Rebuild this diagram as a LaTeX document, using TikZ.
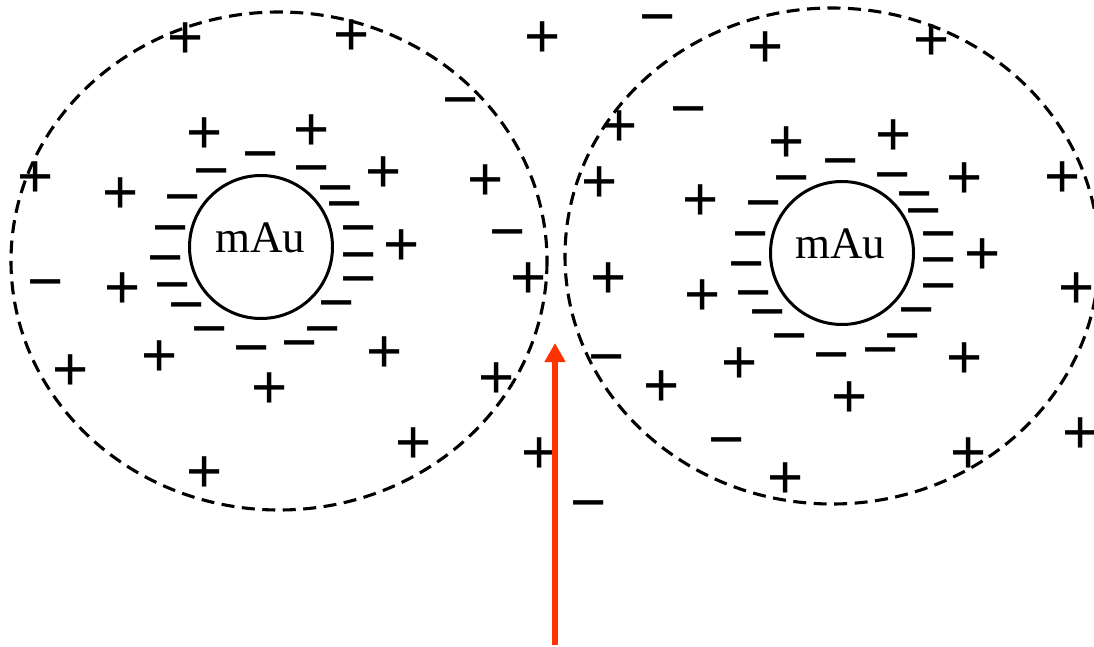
\documentclass[tikz,border=0pt]{standalone}
\usepackage{fontspec}
\setmainfont{Liberation Serif}
\newfontfamily\chargefont{Liberation Sans}
\usetikzlibrary{arrows.meta}
\definecolor{beamred}{RGB}{255,51,0}

\begin{document}
\begin{tikzpicture}[x=1pt, y=-1pt,
    chargep/.style={font=\chargefont\fontsize{62}{62}\selectfont, inner sep=0pt, anchor=mid, yshift=-18pt},
    chargem/.style={chargep},
    particle/.style={draw, circle, line width=3pt, minimum size=143pt, inner sep=0pt},
    tag/.style={font=\fontsize{45}{45}\selectfont, inner sep=0pt},
    shell/.style={draw, line width=3.1pt, dash pattern=on 13pt off 7.5pt}]

\useasboundingbox (0,0) rectangle (1094,647);

% Double layers round the particles
\draw[shell] (279,261) ellipse [x radius=268, y radius=249];
\draw[shell] (832,256) ellipse [x radius=267, y radius=248];

% Particles
\node[particle] (mauL) at (261,247) {};
\node[particle] (mauR) at (842,253) {};
\node[tag] (tagL) at (260,238) {mAu};
\node[tag] (tagR) at (840,244) {mAu};

% Positive ions
\foreach \px/\py [count=\i] in {186/38, 352/35, 543/37, 766/47, 932/40,
    620/126, 205/133, 312/130, 787/142, 894/135,
    36/177, 121/193, 384/172, 486/180, 600/182, 701/200, 965/178, 1063/177,
    402/245, 983/254, 123/288, 529/278, 609/278, 703/295, 1077/288,
    160/356, 71/370, 385/352, 270/388, 497/378, 662/386, 740/363, 965/358, 850/397,
    1081/433, 414/443, 540/453, 969/453, 205/472, 786/478}
  \node[chargep] (p\i) at (\px,\py) {+};

% Negative ions
\foreach \px/\py [count=\i] in {658/17, 461/100, 689/109,
    261/154, 212/171, 312/168, 841/161, 792/178, 893/175,
    183/197, 336/188, 345/204, 764/203, 915/194, 924/211,
    508/232, 171/228, 359/228, 751/234, 939/234,
    166/258, 359/255, 747/264, 939/260,
    46/282, 173/285, 187/305, 359/279, 337/303, 754/293, 768/312, 939/286, 917/310,
    210/329, 323/329, 252/348, 300/343, 790/336, 903/336, 832/355, 881/350,
    607/357, 727/440, 589/503}
  \node[chargem] (m\i) at (\px,\py) {−};

% Beam
\coordinate (src) at (555,645);
\coordinate (gap) at (555,343);
\draw[beamred, line width=6.5pt, -{Triangle[width=20pt, length=19pt]}] (src) -- (gap);

\end{tikzpicture}
\end{document}
